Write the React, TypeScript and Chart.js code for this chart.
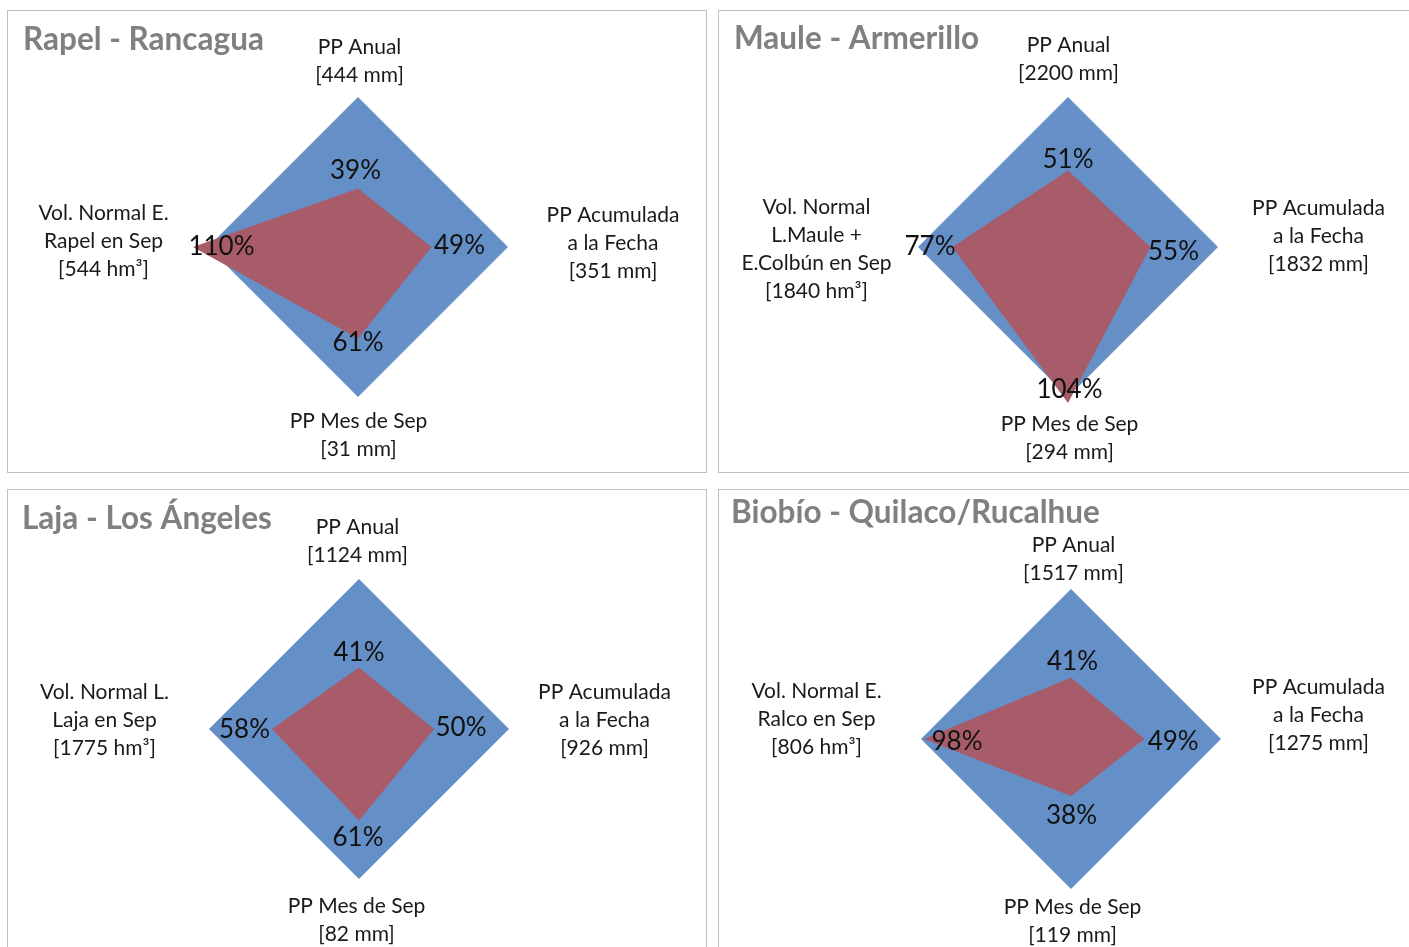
import React, { useEffect, useRef } from "react";
import { Chart, registerables } from "chart.js";

Chart.register(...registerables);

// ---------- DATA ----------
const normalValues = [100, 100, 100, 100];

const rapelTitle = "Rapel - Rancagua";
const rapelAxes = [
  ["PP Anual", "[444 mm]"],
  ["PP Acumulada", "a la Fecha", "[351 mm]"],
  ["PP Mes de Sep", "[31 mm]"],
  ["Vol. Normal E.", "Rapel en Sep", "[544 hm³]"],
];
const rapelValues = [39, 49, 61, 110];

const mauleTitle = "Maule - Armerillo";
const mauleAxes = [
  ["PP Anual", "[2200 mm]"],
  ["PP Acumulada", "a la Fecha", "[1832 mm]"],
  ["PP Mes de Sep", "[294 mm]"],
  ["Vol. Normal", "L.Maule +", "E.Colbún en Sep", "[1840 hm³]"],
];
const mauleValues = [51, 55, 104, 77];

const lajaTitle = "Laja - Los Ángeles";
const lajaAxes = [
  ["PP Anual", "[1124 mm]"],
  ["PP Acumulada", "a la Fecha", "[926 mm]"],
  ["PP Mes de Sep", "[82 mm]"],
  ["Vol. Normal L.", "Laja en Sep", "[1775 hm³]"],
];
const lajaValues = [41, 50, 61, 58];

const biobioTitle = "Biobío - Quilaco/Rucalhue";
const biobioAxes = [
  ["PP Anual", "[1517 mm]"],
  ["PP Acumulada", "a la Fecha", "[1275 mm]"],
  ["PP Mes de Sep", "[119 mm]"],
  ["Vol. Normal E.", "Ralco en Sep", "[806 hm³]"],
];
const biobioValues = [41, 49, 38, 98];

// ---------- LAYOUT / STYLE ----------
const PANEL_W = 700;
const PANEL_H = 463;
const CANVAS_W = PANEL_W - 2;
const CANVAS_H = PANEL_H - 2;
const R = 180; // drawing radius for scale max
const SCALE_MAX = 120;
const BLUE = "#658fc7";
const RED = "#a85b68";
const FONT = "Lato, 'Open Sans', sans-serif";

type PanelCfg = {
  title: string;
  axes: string[][];
  values: number[];
  left: number;
  top: number;
  center: [number, number];
  titlePos: [number, number];
  axisOff: number[][];
  valOff: number[][];
};

const panels: PanelCfg[] = [
  {
    title: rapelTitle, axes: rapelAxes, values: rapelValues,
    left: 7, top: 10, center: [350, 236], titlePos: [15, 29],
    axisOff: [[1.5, -36], [105, -4], [0.5, 38], [-104.5, -6]],
    valOff: [[-2.5, -18], [28, -1], [0, 4], [28.5, 0]],
  },
  {
    title: mauleTitle, axes: mauleAxes, values: mauleValues,
    left: 718, top: 10, center: [349, 236], titlePos: [15, 28],
    axisOff: [[0.5, -38], [100.5, -11], [1.5, 41], [-101.5, 2]],
    valOff: [[0, -11], [23, 5], [1.5, -13], [-22.5, 0]],
  },
  {
    title: lajaTitle, axes: lajaAxes, values: lajaValues,
    left: 7, top: 489, center: [351, 239], titlePos: [14, 29],
    axisOff: [[-1.5, -38], [95.5, -9], [-2.5, 41], [-104.5, -9]],
    valOff: [[0, -14.5], [27, -1], [-1, 17.5], [-27.5, 1]],
  },
  {
    title: biobioTitle, axes: biobioAxes, values: biobioValues,
    left: 718, top: 489, center: [352, 249], titlePos: [12, 23],
    axisOff: [[2.5, -30], [97.5, -23.5], [1.5, 32], [-104.5, -19.5]],
    valOff: [[1.5, -16], [28.7, 3], [0.5, 20], [33, 3]],
  },
];

function RadarPanel({ cfg }: { cfg: PanelCfg }) {
  const ref = useRef<HTMLCanvasElement | null>(null);

  useEffect(() => {
    if (!ref.current) return;
    const [cx, cy] = cfg.center;

    const textPlugin = {
      id: "radarText",
      afterDatasetsDraw(chart: any) {
        const ctx = chart.ctx as CanvasRenderingContext2D;
        const scale = chart.scales.r;
        ctx.save();
        // title
        ctx.font = `bold 31.5px ${FONT}`;
        ctx.fillStyle = "#808080";
        ctx.textAlign = "left";
        ctx.textBaseline = "middle";
        ctx.fillText(cfg.title, cfg.titlePos[0], cfg.titlePos[1]);

        // axis labels
        ctx.font = `21px ${FONT}`;
        ctx.fillStyle = "#1a1a1a";
        ctx.textAlign = "center";
        const lh = 28;
        cfg.axes.forEach((lines, i) => {
          const p = scale.getPointPositionForValue(i, 100);
          const x = p.x + cfg.axisOff[i][0];
          const y = p.y + cfg.axisOff[i][1];
          lines.forEach((ln, j) => {
            ctx.fillText(ln, x, y + (j - (lines.length - 1) / 2) * lh);
          });
        });

        // value labels
        ctx.font = `26px ${FONT}`;
        ctx.fillStyle = "#111111";
        cfg.values.forEach((v, i) => {
          const p = scale.getPointPositionForValue(i, v);
          ctx.fillText(`${v}%`, p.x + cfg.valOff[i][0], p.y + cfg.valOff[i][1]);
        });
        ctx.restore();
      },
    };

    const chart = new Chart(ref.current, {
      type: "radar",
      data: {
        labels: cfg.axes,
        datasets: [
          {
            label: "Actual",
            data: cfg.values,
            backgroundColor: RED,
            borderWidth: 0,
            pointRadius: 0,
            fill: true,
          },
          {
            label: "Normal",
            data: normalValues,
            backgroundColor: BLUE,
            borderWidth: 0,
            pointRadius: 0,
            fill: true,
          },
        ],
      },
      options: {
        responsive: false,
        maintainAspectRatio: false,
        animation: false,
        events: [],
        layout: {
          padding: {
            left: cx - R,
            top: cy - R,
            right: CANVAS_W - cx - R,
            bottom: CANVAS_H - cy - R,
          },
        },
        plugins: {
          legend: { display: false },
          title: { display: false },
          tooltip: { enabled: false },
        },
        scales: {
          r: {
            min: 0,
            max: SCALE_MAX,
            ticks: { display: false },
            grid: { display: false },
            angleLines: { display: false },
            pointLabels: { display: false },
          },
        },
        elements: { line: { tension: 0 } },
      },
      plugins: [textPlugin],
    } as any);

    return () => chart.destroy();
  }, [cfg]);

  return (
    <div
      style={{
        position: "absolute",
        left: cfg.left,
        top: cfg.top,
        width: PANEL_W,
        height: PANEL_H,
        boxSizing: "border-box",
        border: "1px solid #bfbfbf",
        background: "#ffffff",
      }}
    >
      <canvas
        ref={ref}
        width={CANVAS_W}
        height={CANVAS_H}
        style={{ display: "block", width: CANVAS_W, height: CANVAS_H }}
      />
    </div>
  );
}

export default function App() {
  return (
    <div
      style={{
        position: "absolute",
        left: 0,
        top: 0,
        width: 1409,
        height: 947,
        overflow: "hidden",
        background: "#ffffff",
      }}
    >
      {panels.map((p) => (
        <RadarPanel key={p.title} cfg={p} />
      ))}
    </div>
  );
}
